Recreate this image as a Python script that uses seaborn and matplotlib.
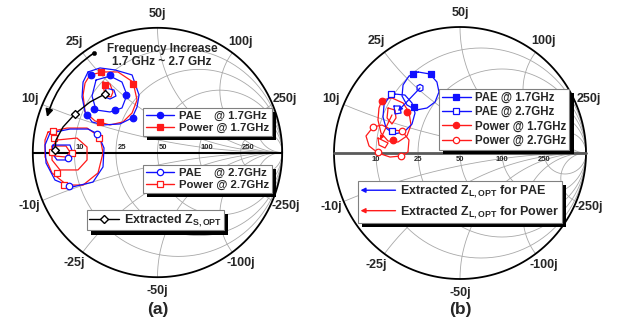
import numpy as np
import matplotlib
matplotlib.use("Agg")
import matplotlib.pyplot as plt
import seaborn as sns
import matplotlib.patheffects as pe
from matplotlib.lines import Line2D
from matplotlib.patches import FancyArrowPatch
from matplotlib.legend_handler import HandlerBase

# ---------------- data: points in the reflection-coefficient plane (Re, Im) ----------------
Z0 = 50
R_GRID = [10, 25, 50, 100, 250]      # constant-resistance circles (ohm)
X_GRID = [10, 25, 50, 100, 250]      # constant-reactance arcs (ohm)

# panel (a) - source-pull contours
A_PAE17_OUT = [(-0.557, 0.646), (-0.461, 0.678), (-0.341, 0.662), (-0.204, 0.622), (-0.148, 0.461),
               (-0.164, 0.365), (-0.204, 0.277), (-0.301, 0.229), (-0.437, 0.221), (-0.525, 0.245),
               (-0.581, 0.325), (-0.605, 0.445), (-0.597, 0.565)]
A_PAE17_IN = [(-0.493, 0.581), (-0.381, 0.613), (-0.285, 0.565), (-0.245, 0.461), (-0.285, 0.357),
              (-0.381, 0.325), (-0.493, 0.341), (-0.525, 0.453)]
A_PAE17_CORE = [(-0.413, 0.517), (-0.349, 0.501), (-0.333, 0.453), (-0.381, 0.429), (-0.421, 0.445)]
A_POW17_OUT = [(-0.541, 0.622), (-0.437, 0.646), (-0.317, 0.646), (-0.196, 0.565), (-0.164, 0.421),
               (-0.204, 0.317), (-0.277, 0.245), (-0.381, 0.221), (-0.501, 0.253), (-0.581, 0.325),
               (-0.597, 0.461), (-0.581, 0.557)]
A_POW17_IN = [(-0.437, 0.565), (-0.381, 0.549), (-0.357, 0.485), (-0.373, 0.445), (-0.413, 0.453),
              (-0.429, 0.501)]
A_PAE17_MARK = [(-0.533, 0.622), (-0.381, 0.622), (-0.253, 0.461), (-0.509, 0.349), (-0.341, 0.341),
                (-0.565, 0.301), (-0.196, 0.277)]
A_POW17_MARK = [(-0.453, 0.646), (-0.196, 0.549), (-0.461, 0.245), (-0.421, 0.541)]

A_PAE27_OUT = [(-0.862, 0.156), (-0.702, 0.188), (-0.557, 0.188), (-0.477, 0.148), (-0.429, 0.036),
               (-0.437, -0.116), (-0.517, -0.237), (-0.686, -0.277), (-0.822, -0.221), (-0.894, -0.084),
               (-0.902, 0.060)]
A_PAE27_IN = [(-0.838, 0.060), (-0.702, 0.060), (-0.678, -0.004), (-0.702, -0.060), (-0.806, -0.060),
              (-0.846, -0.004)]
A_POW27_OUT = [(-0.878, 0.164), (-0.726, 0.196), (-0.565, 0.196), (-0.461, 0.124), (-0.437, -0.004),
               (-0.477, -0.164), (-0.597, -0.261), (-0.726, -0.261), (-0.846, -0.164), (-0.902, -0.036),
               (-0.902, 0.100)]
A_POW27_MID = [(-0.806, 0.100), (-0.646, 0.116), (-0.565, 0.044), (-0.565, -0.060), (-0.638, -0.140),
               (-0.782, -0.140), (-0.846, -0.060), (-0.846, 0.044)]
A_POW27_IN = [(-0.846, 0.052), (-0.734, 0.052), (-0.702, 0.004), (-0.734, -0.036), (-0.830, -0.028)]
A_PAE27_MARK = [(-0.485, 0.148), (-0.710, -0.269), (-0.718, -0.044)]
A_POW27_MARK = [(-0.838, 0.172), (-0.469, 0.116), (-0.806, -0.164), (-0.750, -0.261), (-0.846, 0.004),
                (-0.830, 0.116), (-0.686, -0.004)]

A_ZS_OPT = [(-0.421, 0.469), (-0.541, 0.405), (-0.662, 0.309), (-0.758, 0.204), (-0.814, 0.100),
            (-0.822, 0.020)]
A_ZS_OPT_MARK_IDX = [0, 2, 5]
A_FREQ_ARROW = [(-0.509, 0.798), (-0.886, 0.285)]

# panel (b) - load-pull contours
B_PAE17 = [(-0.333, 0.643), (-0.238, 0.627), (-0.183, 0.563), (-0.167, 0.484), (-0.198, 0.405),
           (-0.262, 0.357), (-0.349, 0.341), (-0.421, 0.381), (-0.460, 0.452), (-0.452, 0.540),
           (-0.405, 0.611)]
B_PAE17_IN = [(-0.317, 0.544), (-0.294, 0.532), (-0.294, 0.500), (-0.317, 0.488), (-0.341, 0.500),
              (-0.341, 0.532)]
B_PAE17_MARK = [(-0.373, 0.627), (-0.230, 0.627), (-0.365, 0.365)]
B_PAE27 = [(-0.516, 0.468), (-0.437, 0.460), (-0.381, 0.397), (-0.357, 0.317), (-0.381, 0.230),
           (-0.444, 0.167), (-0.524, 0.151), (-0.587, 0.198), (-0.611, 0.286), (-0.603, 0.381),
           (-0.563, 0.444)]
B_PAE27_IN = [(-0.524, 0.373), (-0.476, 0.373), (-0.468, 0.317), (-0.516, 0.310)]
B_PAE27_MARK = [(-0.548, 0.468), (-0.540, 0.175)]
B_POW17 = [(-0.619, 0.421), (-0.540, 0.437), (-0.452, 0.397), (-0.405, 0.325), (-0.389, 0.222),
           (-0.421, 0.135), (-0.492, 0.087), (-0.571, 0.095), (-0.627, 0.159), (-0.651, 0.262),
           (-0.643, 0.357)]
B_POW17_IN = [(-0.571, 0.357), (-0.516, 0.341), (-0.508, 0.278), (-0.540, 0.230), (-0.579, 0.278)]
B_POW17_MARK = [(-0.619, 0.413), (-0.421, 0.325), (-0.532, 0.103)]
B_POW27 = [(-0.690, 0.206), (-0.619, 0.222), (-0.540, 0.183), (-0.460, 0.175), (-0.405, 0.103),
           (-0.413, 0.008), (-0.468, -0.024), (-0.556, -0.032), (-0.651, 0.000), (-0.722, 0.056),
           (-0.746, 0.135)]
B_POW27_IN = [(-0.651, 0.119), (-0.571, 0.079), (-0.595, 0.040), (-0.643, 0.063)]
B_POW27_MARK = [(-0.690, 0.206), (-0.651, 0.008), (-0.468, -0.024), (-0.460, 0.175)]
B_PAE_ARROW = [(-0.317, 0.516), (-0.492, 0.333)]
B_POW_ARROW = [(-0.540, 0.302), (-0.635, 0.103)]

# ---------------- style ----------------
sns.set_theme(style="white")
plt.rcParams["font.family"] = ["Liberation Sans", "DejaVu Sans"]
plt.rcParams["font.weight"] = "bold"
plt.rcParams["mathtext.fontset"] = "custom"
plt.rcParams["mathtext.rm"] = "Liberation Sans:bold"
plt.rcParams["mathtext.bf"] = "Liberation Sans:bold"
plt.rcParams["mathtext.it"] = "Liberation Sans:bold"

BLUE, RED = "#1010ff", "#ff1a1a"
GRID_C, GRID_LW = "#a8a8a8", 0.6
W, H = 619, 326

fig = plt.figure(figsize=(W / 100, H / 100), dpi=100)
fig.patch.set_facecolor("white")


def make_axes(x0, x1, cx, cy, R):
    ax = fig.add_axes([x0 / W, 0, (x1 - x0) / W, 1])
    ax.set_xlim((x0 - cx) / R, (x1 - cx) / R)
    ax.set_ylim((cy - H) / R, cy / R)
    ax.set_aspect("auto")
    ax.axis("off")
    return ax


axA = make_axes(0, 310, 157.5, 152.5, 124.7)
axB = make_axes(310, 619, 460.0, 153.0, 126.0)


def draw_grid(ax, axis_color, axis_lw, r_label_above):
    t = np.linspace(0, 2 * np.pi, 361)
    for r in R_GRID:
        rn = r / Z0
        cen, rad = rn / (1 + rn), 1 / (1 + rn)
        ax.plot(cen + rad * np.cos(t), rad * np.sin(t), color=GRID_C, lw=GRID_LW, zorder=1)
    u = np.linspace(0, 0.9995, 700)
    rr = u / (1 - u)
    for x in X_GRID:
        for sgn in (1, -1):
            g = (rr + 1j * sgn * x / Z0 - 1) / (rr + 1j * sgn * x / Z0 + 1)
            ax.plot(g.real, g.imag, color=GRID_C, lw=GRID_LW, zorder=1)
    ax.plot(np.cos(t), np.sin(t), color="black", lw=1.3, zorder=2)
    ax.plot([-1, 1], [0, 0], color=axis_color, lw=axis_lw, zorder=2)
    for x in X_GRID:
        g = (1j * x / Z0 - 1) / (1j * x / Z0 + 1)
        for sgn, lab in ((1, f"{x}j"), (-1, f"-{x}j")):
            ax.text(1.11 * g.real, 1.11 * sgn * g.imag, lab, ha="center", va="center",
                    fontsize=9, fontweight="bold", zorder=2)
    for r in R_GRID:
        rn = r / Z0
        g = (rn - 1) / (rn + 1)
        if r_label_above:
            ax.text(g + 0.012, 0.015, str(r), ha="left", va="bottom", fontsize=5.5,
                    fontweight="bold", zorder=2)
        else:
            ax.text(g, -0.025, str(r), ha="center", va="top", fontsize=5.5,
                    fontweight="bold", zorder=2)


def contour(ax, pts, color, lw=0.9, closed=True):
    arr = np.array(list(pts) + ([pts[0]] if closed else []))
    sns.lineplot(x=arr[:, 0], y=arr[:, 1], sort=False, estimator=None, color=color, lw=lw,
                 ax=ax, legend=False, zorder=3)


def marks(ax, pts, marker, color, filled, s=22):
    arr = np.array(pts)
    sns.scatterplot(x=arr[:, 0], y=arr[:, 1], marker=marker, s=s,
                    color=color if filled else "white", edgecolor=color, linewidth=0.9,
                    ax=ax, legend=False, zorder=4)


draw_grid(axA, "black", 1.5, True)
draw_grid(axB, "#5a5a5a", 2.0, False)

# ---- panel (a)
for pts in (A_POW17_OUT, A_POW17_IN, A_POW27_OUT, A_POW27_MID, A_POW27_IN):
    contour(axA, pts, RED)
for pts in (A_PAE17_OUT, A_PAE17_IN, A_PAE17_CORE, A_PAE27_OUT, A_PAE27_IN):
    contour(axA, pts, BLUE)
marks(axA, A_POW17_MARK, "s", RED, True)
marks(axA, A_PAE17_MARK, "o", BLUE, True)
marks(axA, A_POW27_MARK, "s", RED, False)
marks(axA, A_PAE27_MARK, "o", BLUE, False)
zs = np.array(A_ZS_OPT)
sns.lineplot(x=zs[:, 0], y=zs[:, 1], sort=False, estimator=None, color="black", lw=1.0,
             ax=axA, legend=False, zorder=5)
zsm = zs[A_ZS_OPT_MARK_IDX]
sns.scatterplot(x=zsm[:, 0], y=zsm[:, 1], marker="D", s=16, color="white", edgecolor="black",
                linewidth=1.0, ax=axA, legend=False, zorder=6)
fa = np.array(A_FREQ_ARROW)
axA.annotate("", xy=fa[1], xytext=fa[0],
             arrowprops=dict(arrowstyle="-|>", connectionstyle="arc3,rad=0.18", lw=1.2,
                             color="black", mutation_scale=11, shrinkA=0, shrinkB=0), zorder=5)
sns.scatterplot(x=fa[:1, 0], y=fa[:1, 1], marker="o", s=10, color="black", edgecolor="black",
                ax=axA, legend=False, zorder=6)
axA.text(0.036, 0.778, "Frequency Increase\n1.7 GHz ~ 2.7 GHz", ha="center", va="center",
         fontsize=8.5, fontweight="bold", linespacing=1.2, zorder=6)
axA.text(0.0, -1.263, "(a)", ha="center", va="center", fontsize=12.5, fontweight="bold")

# ---- panel (b)
for pts in (B_POW17, B_POW17_IN, B_POW27, B_POW27_IN):
    contour(axB, pts, RED)
for pts in (B_PAE17, B_PAE17_IN, B_PAE27, B_PAE27_IN):
    contour(axB, pts, BLUE)
marks(axB, B_PAE17_MARK, "s", BLUE, True)
marks(axB, B_PAE27_MARK, "s", BLUE, False)
marks(axB, B_POW17_MARK, "o", RED, True)
marks(axB, B_POW27_MARK, "o", RED, False)
for arr_pts, col in ((B_PAE_ARROW, BLUE), (B_POW_ARROW, RED)):
    a = np.array(arr_pts)
    axB.annotate("", xy=a[1], xytext=a[0],
                 arrowprops=dict(arrowstyle="-|>", lw=0.9, color=col, mutation_scale=6,
                                 shrinkA=0, shrinkB=0), zorder=5)
axB.text(0.0, -1.246, "(b)", ha="center", va="center", fontsize=12.5, fontweight="bold")


# ---------------- legends ----------------
class ArrowKey:
    def __init__(self, color):
        self.color = color


class ArrowHandler(HandlerBase):
    def create_artists(self, legend, orig_handle, xdescent, ydescent, width, height,
                       fontsize, trans):
        y = (height - ydescent) / 2
        a = FancyArrowPatch((-xdescent + width, y), (-xdescent, y), arrowstyle="-|>",
                            mutation_scale=7, color=orig_handle.color, lw=1.0,
                            shrinkA=0, shrinkB=0, transform=trans)
        return [a]


def key(color, marker, filled):
    return Line2D([], [], color=color, lw=1.0, marker=marker, ms=4.5,
                  mfc=color if filled else "white", mec=color, mew=0.9)


def boxed(handles, labels, px, py, size, **kw):
    leg = fig.legend(handles, labels, loc="upper left", bbox_to_anchor=(px / W, 1 - py / H),
                     frameon=True, fancybox=False, framealpha=1, edgecolor="#808080",
                     borderaxespad=0, prop={"weight": "bold", "size": size}, **kw)
    fr = leg.get_frame()
    fr.set_linewidth(0.8)
    fr.set_path_effects([pe.SimplePatchShadow(offset=(3, -3), shadow_rgbFace="black", alpha=1.0),
                         pe.Normal()])
    return leg


boxed([key(BLUE, "o", True), key(RED, "s", True)],
      ["PAE    @ 1.7GHz", "Power @ 1.7GHz"], 143, 108, 8.2,
      handlelength=2.5, handletextpad=0.4, borderpad=0.25, labelspacing=0.15)
boxed([key(BLUE, "o", False), key(RED, "s", False)],
      ["PAE    @ 2.7GHz", "Power @ 2.7GHz"], 143, 165, 8.2,
      handlelength=2.5, handletextpad=0.4, borderpad=0.25, labelspacing=0.15)
boxed([Line2D([], [], color="black", lw=1.0, marker="D", ms=4, mfc="white", mec="black")],
      [r"Extracted Z$_{\mathrm{S,OPT}}$"], 87, 210, 9,
      handlelength=2.4, handletextpad=0.4, borderpad=0.15)
boxed([key(BLUE, "s", True), key(BLUE, "s", False), key(RED, "o", True), key(RED, "o", False)],
      ["PAE @ 1.7GHz", "PAE @ 2.7GHz", "Power @ 1.7GHz", "Power @ 2.7GHz"], 439, 89, 8.3,
      handlelength=2.5, handletextpad=0.4, borderpad=0.25, labelspacing=0.2)
boxed([ArrowKey(BLUE), ArrowKey(RED)],
      [r"Extracted Z$_{\mathrm{L,OPT}}$ for PAE", r"Extracted Z$_{\mathrm{L,OPT}}$ for Power"],
      358, 181, 9, handler_map={ArrowKey: ArrowHandler()},
      handlelength=2.8, handletextpad=0.4, borderpad=0.2, labelspacing=0.3)

fig.savefig("out.png", dpi=100, facecolor="white")
